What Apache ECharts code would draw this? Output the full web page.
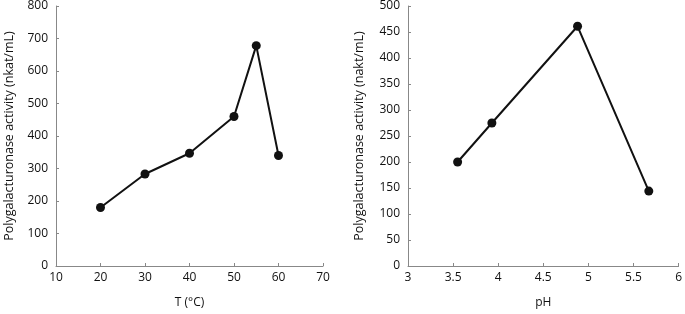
<!DOCTYPE html>
<html>
<head>
<meta charset="utf-8">
<script src="https://cdn.jsdelivr.net/npm/echarts@6/dist/echarts.min.js"></script>
<style>
html, body { margin: 0; padding: 0; background: #fff; }
#chart { width: 685px; height: 314px; }
</style>
</head>
<body>
<div id="chart"></div>
<script>
// 温度曲线
var tempX = [20, 30, 40, 50, 55, 60];
var tempY = [180, 283, 347, 460, 678, 340];
// pH 曲线
var phX = [3.55, 3.93, 4.88, 5.67];
var phY = [200, 275, 461, 144];

var yNameLeft = 'Polygalacturonase activity (nkat/mL)';
var yNameRight = 'Polygalacturonase activity (nakt/mL)';
var xNameLeft = 'T (°C)';
var xNameRight = 'pH';

var font = 'Open Sans';

function pairs (xs, ys) {
    return xs.map(function (x, i) { return [x, ys[i]]; });
}

function xAxisCfg (idx, name, min, max, step) {
    return {
        type: 'value',
        gridIndex: idx,
        min: min,
        max: max,
        interval: step,
        name: name,
        nameLocation: 'middle',
        nameGap: 31,
        nameTextStyle: { color: '#111', fontSize: 12, fontFamily: font },
        axisLine: { lineStyle: { color: '#888', width: 1 } },
        axisTick: { show: true, inside: true, length: 3, lineStyle: { color: '#888' } },
        axisLabel: { color: '#111', fontSize: 12, fontFamily: font, margin: 6 },
        splitLine: { show: false }
    };
}

function yAxisCfg (idx, name, max, step, gap) {
    return {
        type: 'value',
        gridIndex: idx,
        min: 0,
        max: max,
        interval: step,
        name: name,
        nameLocation: 'middle',
        nameGap: gap,
        nameTextStyle: { color: '#111', fontSize: 12.5, fontFamily: font },
        axisLine: { show: true, lineStyle: { color: '#888', width: 1 } },
        axisTick: { show: true, inside: true, length: 3, lineStyle: { color: '#888' } },
        axisLabel: { color: '#111', fontSize: 12, fontFamily: font, margin: 8 },
        splitLine: { show: false }
    };
}

function lineSeries (idx, data) {
    return {
        type: 'line',
        xAxisIndex: idx,
        yAxisIndex: idx,
        data: data,
        symbol: 'circle',
        symbolSize: 9,
        itemStyle: { color: '#111' },
        lineStyle: { color: '#111', width: 2 },
        animation: false
    };
}

var chart = echarts.init(document.getElementById('chart'));
var option = {
    backgroundColor: '#fff',
    grid: [
        { left: 56, top: 6, width: 267, height: 261 },
        { left: 408, top: 6, width: 274, height: 261 }
    ],
    xAxis: [
        xAxisCfg(0, xNameLeft, 10, 70, 10),
        xAxisCfg(1, xNameRight, 3, 6, 0.5)
    ],
    yAxis: [
        yAxisCfg(0, yNameLeft, 800, 100, 40),
        yAxisCfg(1, yNameRight, 500, 50, 42)
    ],
    series: [
        lineSeries(0, pairs(tempX, tempY)),
        lineSeries(1, pairs(phX, phY))
    ]
};
chart.setOption(option);
</script>
</body>
</html>
